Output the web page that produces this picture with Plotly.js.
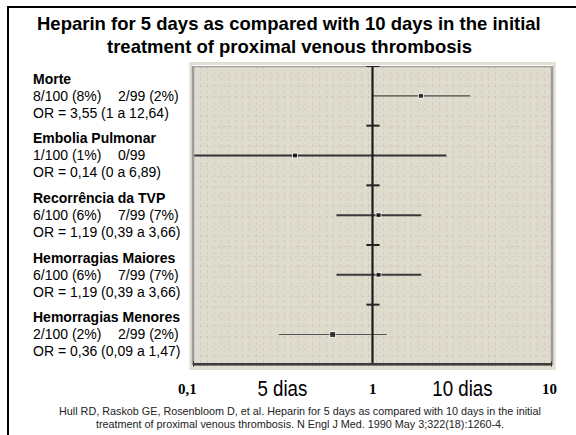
<!DOCTYPE html>
<html>
<head>
<meta charset="utf-8">
<script src="https://cdn.plot.ly/plotly-3.0.1.min.js"></script>
<style>
  html, body { margin: 0; padding: 0; background: #fff; }
  #wrap { position: relative; width: 576px; height: 435px; overflow: hidden; }
  #chart { width: 576px; height: 435px; }
  #frame { position: absolute; left: 7px; top: 6px; width: 800px; height: 800px;
           border-left: 2px solid #000; border-top: 2px solid #000; pointer-events: none; }
</style>
</head>
<body>
<div id="wrap"><div id="chart"></div><div id="frame"></div></div>
<script>
// ---- data ----
const outcomes = ['Morte', 'Embolia Pulmonar', 'Recorrência da TVP', 'Hemorragias Maiores', 'Hemorragias Menores'];
const counts5 = ['8/100 (8%)', '1/100 (1%)', '6/100 (6%)', '6/100 (6%)', '2/100 (2%)'];
const counts10 = ['2/99 (2%)', '0/99', '7/99 (7%)', '7/99 (7%)', '2/99 (2%)'];
const orLabels = ['OR = 3,55 (1 a 12,64)', 'OR = 0,14 (0 a 6,89)', 'OR = 1,19 (0,39 a 3,66)', 'OR = 1,19 (0,39 a 3,66)', 'OR = 0,36 (0,09 a 1,47)'];
// plotted positions (odds ratio, log axis) as drawn in the figure
const pointEst = [1.86, 0.37, 1.08, 1.08, 0.60];
const ciLow = [1.0, 0.1, 0.63, 0.63, 0.30];
const ciHigh = [3.50, 2.58, 1.87, 1.87, 1.20];
const rowPos = [4.5, 3.5, 2.5, 1.5, 0.5];
const axisLabels = ['0,1', '5 dias', '1', '10 dias', '10'];
const axisLabelPos = [0.1, 0.316, 1, 3.16, 10];
const titleLines = ['Heparin for 5 days as compared with 10 days in the initial', 'treatment of proximal venous thrombosis'];
const citation = ['Hull RD, Raskob GE, Rosenbloom D, et al. Heparin for 5 days as compared with 10 days in the initial',
                  'treatment of proximal venous thrombosis. N Engl J Med. 1990 May 3;322(18):1260-4.'];

// ---- styles ----
const lineWidths = [1.2, 2, 2, 2, 1.2];
const lineColors = ['#4a4a4a', '#333333', '#3a3a3a', '#3a3a3a', '#555555'];
const markerSizes = [5, 5, 5, 5, 6];
const axisLabelShift = [-6, 0, 0, 0, -3];

const traces = [];
outcomes.forEach((name, i) => {
  traces.push({
    type: 'scatter', mode: 'lines', x: [ciLow[i], ciHigh[i]], y: [rowPos[i], rowPos[i]],
    line: { color: lineColors[i], width: lineWidths[i] }, hoverinfo: 'skip', showlegend: false
  });
});
traces.push({
  type: 'scatter', mode: 'markers', x: pointEst, y: rowPos,
  marker: { symbol: 'square', size: markerSizes, color: '#000' }, showlegend: false, hoverinfo: 'skip'
});
// helper trace for the faint dotted background grid
traces.push({ type: 'scatter', mode: 'markers', x: [0.5], y: [0.5], xaxis: 'x2', yaxis: 'y2',
  marker: { opacity: 0 }, showlegend: false, hoverinfo: 'skip' });

const nRows = outcomes.length;
const shapes = [];
shapes.push({ type: 'rect', xref: 'paper', yref: 'paper', x0: -0.006, x1: 1.006, y0: -0.005, y1: 1.008,
  line: { color: '#e2e0d4', width: 3 }, layer: 'below' });
shapes.push({ type: 'rect', xref: 'paper', yref: 'y', x0: 0, x1: 1, y0: 0, y1: nRows,
  line: { color: '#9c9c9c', width: 2.5 }, layer: 'above' });
shapes.push({ type: 'line', xref: 'x', yref: 'y', x0: 1, x1: 1, y0: 0, y1: nRows, line: { color: '#1c1c1c', width: 2.2 } });
for (let k = 1; k <= nRows; k++) {
  shapes.push({ type: 'line', xref: 'x', yref: 'y', x0: 0.925, x1: 1.095, y0: k, y1: k, line: { color: '#222', width: 2 } });
}
shapes.push({ type: 'line', xref: 'x', yref: 'y', x0: 0.1, x1: 10, y0: 0, y1: 0, line: { color: '#3c3c3c', width: 2.5 } });
shapes.push({ type: 'line', xref: 'x', yref: 'y', x0: 0.1, x1: 0.1, y0: -0.04, y1: 0.05, line: { color: '#3c3c3c', width: 2 } });
shapes.push({ type: 'line', xref: 'x', yref: 'y', x0: 10, x1: 10, y0: -0.04, y1: 0.05, line: { color: '#3c3c3c', width: 2 } });

const annotations = [];
const sans = 'Arial, Liberation Sans, sans-serif';
const labelFont = { family: sans, size: 14, color: '#000' };
const xLeft = (31 - 193) / 359;
const xCol2 = (116 - 193) / 359;
const pxY = (py) => (367 - py) / 301;   // page pixel row -> paper y
const pxX = (px) => (px - 193) / 359;   // page pixel col -> paper x

titleLines.forEach((t, i) => {
  annotations.push({ xref: 'paper', yref: 'paper', x: pxX(289), y: pxY(24 + 22 * i), xanchor: 'center', yanchor: 'middle',
    text: '<b>' + t + '</b>', showarrow: false, font: { family: sans, size: 18.5, color: '#000' } });
});
outcomes.forEach((name, i) => {
  annotations.push({ xref: 'paper', yref: 'y', x: xLeft, y: rowPos[i], yshift: 17, xanchor: 'left', yanchor: 'middle',
    text: '<b>' + name + '</b>', showarrow: false, font: labelFont });
  annotations.push({ xref: 'paper', yref: 'y', x: xLeft, y: rowPos[i], xanchor: 'left', yanchor: 'middle',
    text: counts5[i], showarrow: false, font: labelFont });
  annotations.push({ xref: 'paper', yref: 'y', x: xCol2, y: rowPos[i], xanchor: 'left', yanchor: 'middle',
    text: counts10[i], showarrow: false, font: labelFont });
  annotations.push({ xref: 'paper', yref: 'y', x: xLeft, y: rowPos[i], yshift: -17, xanchor: 'left', yanchor: 'middle',
    text: orLabels[i], showarrow: false, font: labelFont });
});
axisLabels.forEach((t, i) => {
  const isWord = /dias/.test(t);
  annotations.push({ xref: 'x', yref: 'paper', x: Math.log10(axisLabelPos[i]), y: -0.073, xshift: axisLabelShift[i],
    xanchor: 'center', yanchor: 'middle',
    text: isWord ? t : '<b>' + t + '</b>', showarrow: false,
    font: isWord ? { family: sans, size: 22, color: '#000' }
                 : { family: 'Liberation Serif, Times New Roman, serif', size: 15, color: '#000' } });
});
citation.forEach((t, i) => {
  annotations.push({ xref: 'paper', yref: 'paper', x: pxX(300), y: pxY(411 + 13 * i),
    xanchor: 'center', yanchor: 'middle', text: t, showarrow: false,
    font: { family: sans, size: 10.8, color: '#222' } });
});

const layout = {
  width: 576, height: 435,
  margin: { l: 193, r: 24, t: 66, b: 68, pad: 0 },
  paper_bgcolor: '#ffffff', plot_bgcolor: '#dddccd',
  xaxis: { type: 'log', range: [-1, 1], showticklabels: false, showgrid: false, zeroline: false, ticks: '', showline: false, fixedrange: true },
  yaxis: { range: [-0.045, nRows], showticklabels: false, showgrid: false, zeroline: false, ticks: '', showline: false, fixedrange: true },
  xaxis2: { overlaying: 'x', range: [0, 1], dtick: 1 / 51, showgrid: true, gridcolor: 'rgba(214,176,190,0.5)', griddash: 'dot',
    gridwidth: 1, showticklabels: false, zeroline: false, ticks: '', showline: false },
  yaxis2: { overlaying: 'y', range: [0, 1], dtick: 1 / 30, showgrid: true, gridcolor: 'rgba(214,176,190,0.4)', griddash: 'dot',
    gridwidth: 1, showticklabels: false, zeroline: false, ticks: '', showline: false },
  shapes: shapes,
  annotations: annotations,
  showlegend: false
};

Plotly.newPlot('chart', traces, layout, { staticPlot: true, displayModeBar: false }).then(() => {
  // the "dias" labels use a condensed face in the original: squeeze them horizontally around their centre
  document.querySelectorAll('#chart .annotation-text').forEach((el) => {
    if (/dias/.test(el.textContent)) {
      const b = el.getBBox();
      const cx = b.x + b.width / 2;
      const s = 0.85;
      el.setAttribute('transform', 'translate(' + (cx * (1 - s)) + ',0) scale(' + s + ',1)');
    }
  });
});
</script>
</body>
</html>
